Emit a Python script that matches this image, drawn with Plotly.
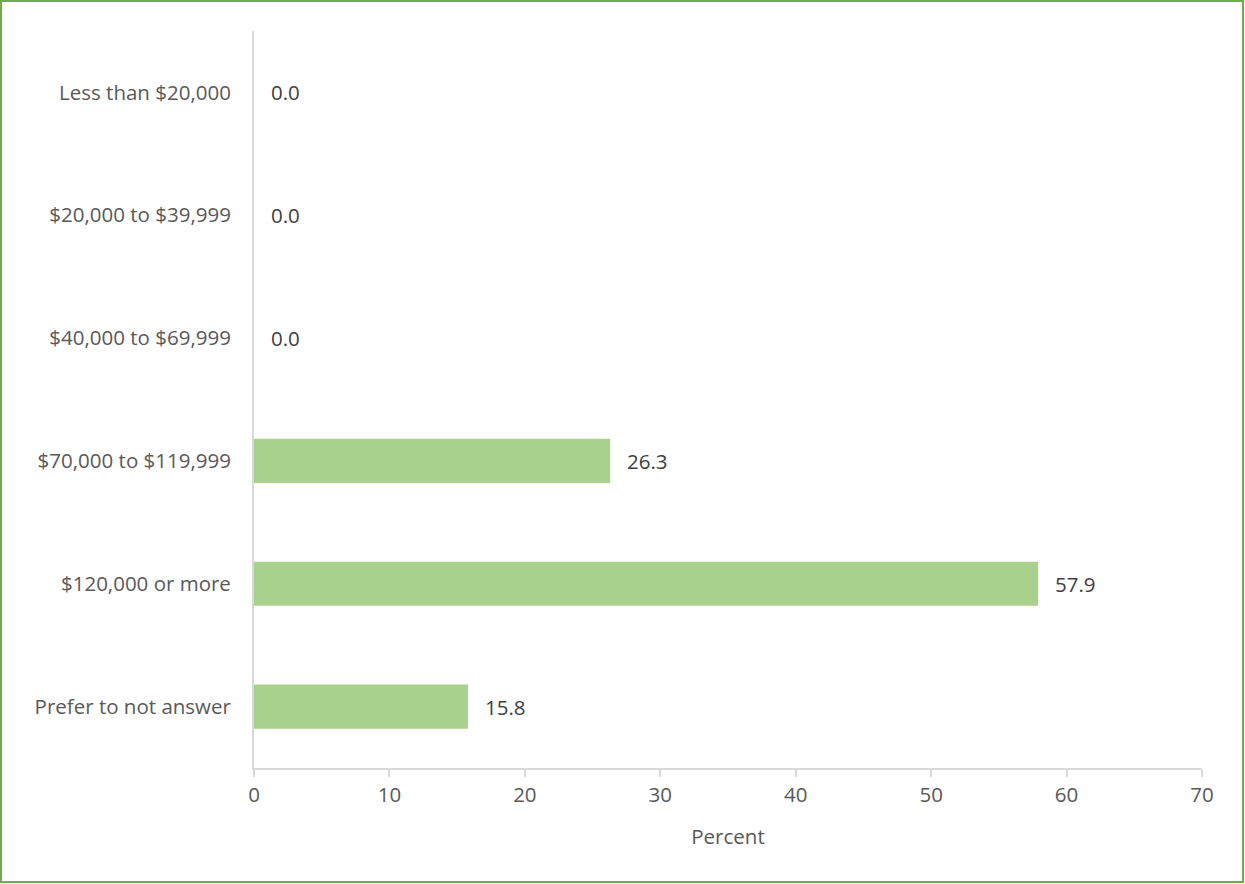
import plotly.graph_objects as go

categories = ["Less than $20,000", "$20,000 to $39,999", "$40,000 to $69,999",
              "$70,000 to $119,999", "$120,000 or more", "Prefer to not answer"]
values = [0.0, 0.0, 0.0, 26.3, 57.9, 15.8]
x_ticks = [0, 10, 20, 30, 40, 50, 60, 70]

W, H = 1245, 884
ml, mr, mt, mb = 254, 43, 31, 116
pw, ph = W - ml - mr, H - mt - mb

FONT = "Open Sans, Liberation Sans, sans-serif"
FS = 20.5

fig = go.Figure(go.Bar(
    x=values, y=categories, orientation="h",
    marker=dict(color="#A9D18E", line=dict(width=0)),
    width=0.36, hoverinfo="x+y",
))

for c, v in zip(categories, values):
    fig.add_annotation(x=v, y=c, text=f"{v:.1f}", showarrow=False,
                       xanchor="left", xshift=15,
                       font=dict(family=FONT, size=FS, color="#404040"))

def px2x(p):
    return (p - ml) / pw

def py2y(p):
    return (H - mb - p) / ph

fig.add_shape(type="rect", xref="paper", yref="paper",
              x0=px2x(1), x1=px2x(W - 2), y0=py2y(H - 2), y1=py2y(1),
              line=dict(color="#70AD47", width=2), layer="above")

fig.update_layout(
    width=W, height=H,
    margin=dict(l=ml, r=mr, t=mt, b=mb, autoexpand=False),
    paper_bgcolor="white", plot_bgcolor="white",
    showlegend=False,
    font=dict(family=FONT, size=FS, color="#595959"),
    xaxis=dict(range=[0, 70], tickvals=x_ticks, showgrid=False, zeroline=False,
               showline=True, linecolor="#D9D9D9", linewidth=2,
               ticks="outside", ticklen=7, tickcolor="#D9D9D9", tickwidth=2,
               tickfont=dict(size=FS, color="#595959"),
               title=dict(text="Percent", font=dict(size=FS, color="#595959"), standoff=23)),
    yaxis=dict(categoryorder="array", categoryarray=categories[::-1],
               showgrid=False, zeroline=False, showline=True, linecolor="#D9D9D9",
               linewidth=2, ticks="", ticklabelstandoff=17,
               tickfont=dict(size=FS, color="#595959")),
)

fig.write_html("out.html", config={"displayModeBar": False},
               post_script="document.body.style.margin='0';document.body.style.overflow='hidden';")
